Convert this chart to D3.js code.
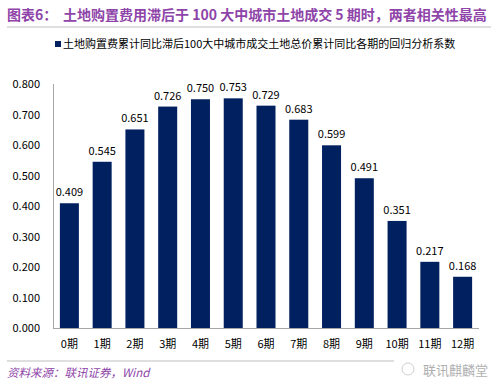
<!DOCTYPE html>
<html>
<head>
  <meta charset="utf-8">
  <script src="https://d3js.org/d3.v7.min.js"></script>
  <style>
    body { margin: 0; background: #fff; }
    text { font-family: "Noto Sans CJK SC", "Liberation Sans", sans-serif; }
  </style>
</head>
<body>
  <svg id="chart"></svg>
  <script>
    // 数据
    var periods = ['0期', '1期', '2期', '3期', '4期', '5期', '6期', '7期', '8期', '9期', '10期', '11期', '12期'];
    var coefs = [0.409, 0.545, 0.651, 0.726, 0.750, 0.753, 0.729, 0.683, 0.599, 0.491, 0.351, 0.217, 0.168];
    var yTicks = [0, 0.1, 0.2, 0.3, 0.4, 0.5, 0.6, 0.7, 0.8];

    var svgWidth = 499, svgHeight = 388;
    var svg = d3.select('#chart')
      .attr('width', svgWidth)
      .attr('height', svgHeight);

    // 标题
    var title = svg.append('text')
      .attr('x', 7)
      .attr('y', 20)
      .attr('fill', '#8e44a8')
      .style('font-size', '14px')
      .style('font-weight', 'bold');
    title.append('tspan').text('图表6：');
    title.append('tspan').attr('x', 63).text('土地购置费用滞后于 100 大中城市土地成交 5 期时，两者相关性最高');

    svg.append('line')
      .attr('x1', 7).attr('x2', 491)
      .attr('y1', 27).attr('y2', 27)
      .attr('stroke', '#bfbfbf').attr('stroke-width', 1);

    // 图例
    svg.append('rect')
      .attr('x', 55).attr('y', 41)
      .attr('width', 6).attr('height', 6)
      .attr('fill', '#002060');
    svg.append('text')
      .attr('x', 63).attr('y', 48)
      .attr('fill', '#000')
      .style('font-size', '11px')
      .text('土地购置费累计同比滞后100大中城市成交土地总价累计同比各期的回归分析系数');

    var x = d3.scaleBand()
      .domain(periods)
      .range([53, 479])
      .paddingInner(0.42)
      .paddingOuter(0.21);

    var y = d3.scaleLinear()
      .domain([0, 0.8])
      .range([328, 84]);

    // y轴
    svg.append('line')
      .attr('x1', 53.5).attr('x2', 53.5)
      .attr('y1', 84).attr('y2', 328)
      .attr('stroke', '#a6a6a6');
    svg.selectAll('.ytick')
      .data(yTicks)
      .enter().append('text')
      .attr('class', 'ytick')
      .attr('x', 40)
      .attr('y', function(d) { return y(d) + 4; })
      .attr('text-anchor', 'end')
      .style('font-size', '11px')
      .text(function(d) { return d3.format('.3f')(d); });

    // 柱子
    svg.selectAll('.bar')
      .data(coefs)
      .enter().append('rect')
      .attr('class', 'bar')
      .attr('x', function(d, i) { return x(periods[i]); })
      .attr('y', function(d) { return y(d); })
      .attr('width', x.bandwidth())
      .attr('height', function(d) { return y(0) - y(d); })
      .attr('fill', '#002060');

    svg.selectAll('.val')
      .data(coefs)
      .enter().append('text')
      .attr('class', 'val')
      .attr('x', function(d, i) { return x(periods[i]) + x.bandwidth() / 2; })
      .attr('y', function(d) { return y(d) - 7; })
      .attr('text-anchor', 'middle')
      .style('font-size', '11px')
      .text(function(d) { return d3.format('.3f')(d); });

    // x轴
    svg.append('line')
      .attr('x1', 53).attr('x2', 479)
      .attr('y1', 328.5).attr('y2', 328.5)
      .attr('stroke', '#a6a6a6');
    svg.selectAll('.xtick')
      .data(periods)
      .enter().append('text')
      .attr('class', 'xtick')
      .attr('x', function(d) { return x(d) + x.bandwidth() / 2; })
      .attr('y', 348)
      .attr('text-anchor', 'middle')
      .style('font-size', '11px')
      .text(function(d) { return d; });

    // 底部
    svg.append('line')
      .attr('x1', 7).attr('x2', 491)
      .attr('y1', 361).attr('y2', 361)
      .attr('stroke', '#bfbfbf');
    svg.append('text')
      .attr('x', 7).attr('y', 377)
      .attr('fill', '#8e44a8')
      .style('font-size', '11.5px')
      .style('font-style', 'italic')
      .text('资料来源：联讯证券，Wind');

    svg.append('rect')
      .attr('x', 394).attr('y', 360)
      .attr('width', 98).attr('height', 22)
      .attr('fill', '#fff');
    svg.append('circle')
      .attr('cx', 408).attr('cy', 369).attr('r', 6)
      .attr('fill', 'none').attr('stroke', '#cfcfcf');
    svg.append('text')
      .attr('x', 423).attr('y', 375)
      .attr('fill', '#b0b0b0')
      .style('font-size', '13px')
      .text('联讯麒麟堂');
  </script>
</body>
</html>
